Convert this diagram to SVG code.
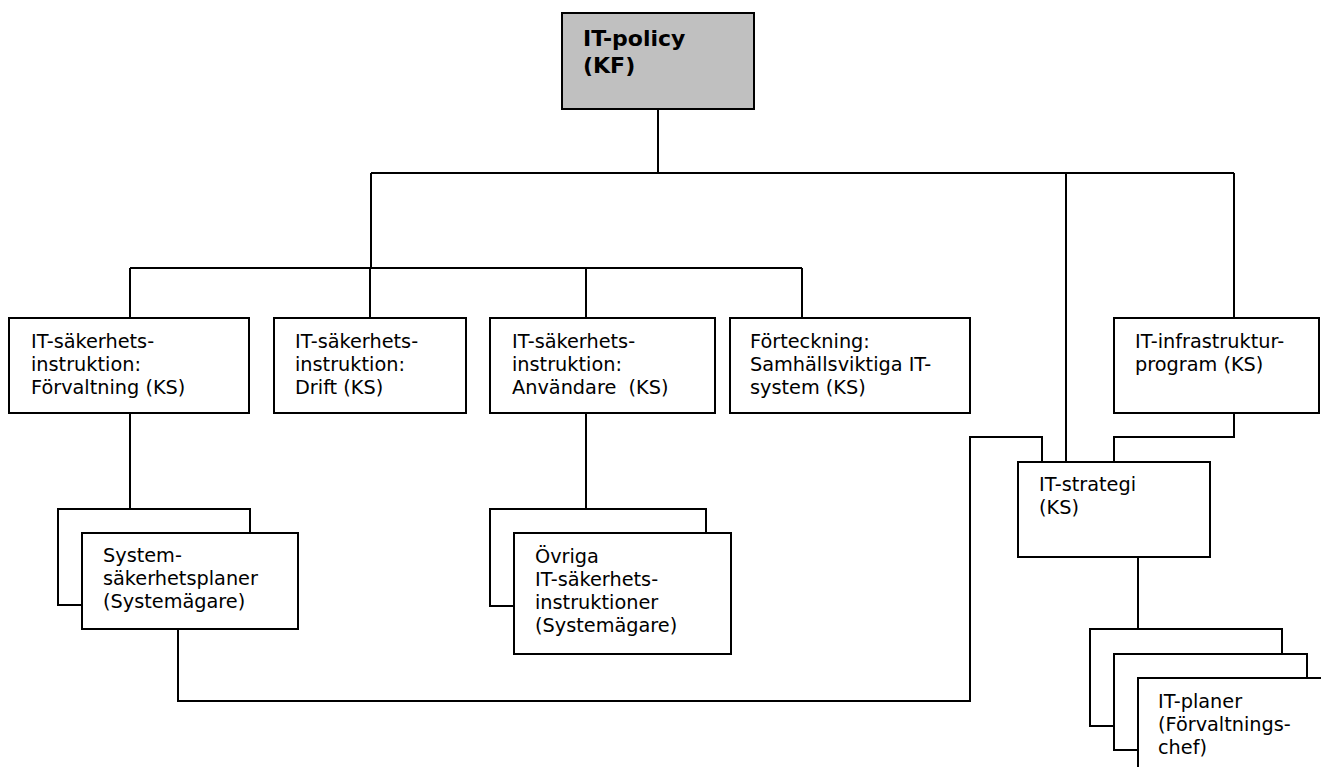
<svg xmlns="http://www.w3.org/2000/svg" width="1321" height="767" viewBox="0 0 1321 767">
<style>
.box{fill:#fff;stroke:#000;stroke-width:2}
.root{fill:#c0c0c0;stroke:#000;stroke-width:2}
.t{font-family:"DejaVu Sans",Verdana,sans-serif;font-size:19.3px;fill:#000;white-space:pre}
.tb{font-family:"DejaVu Sans",Verdana,sans-serif;font-size:22px;font-weight:bold;fill:#000}
.c{fill:none;stroke:#000;stroke-width:2}
</style>
<rect width="1321" height="767" fill="#fff"/>
<g id="connectors">
<path class="c" d="M658 109V173M371 173H1234M371 173V268M130 268H802M130 268V318M370 268V318M586 268V318M802 268V318M1066 173V462M1234 173V318"/>
<path class="c" d="M130 413V509M586 413V509M1234 413V437H1114V462M1138 557V629M178 629V701H970V437H1042V462"/>
</g>
<g id="n-policy"><rect class="root" x="562" y="13" width="192" height="96"/><text class="tb" x="583" y="46">IT-policy</text><text class="tb" x="583" y="73">(KF)</text></g>
<g id="n-forvaltning"><rect class="box" x="9" y="318" width="240" height="95"/><text class="t" x="31" y="348">IT-säkerhets-</text><text class="t" x="31" y="371">instruktion:</text><text class="t" x="31" y="394">Förvaltning (KS)</text></g>
<g id="n-drift"><rect class="box" x="274" y="318" width="192" height="95"/><text class="t" x="295" y="348">IT-säkerhets-</text><text class="t" x="295" y="371">instruktion:</text><text class="t" x="295" y="394">Drift (KS)</text></g>
<g id="n-anvandare"><rect class="box" x="490" y="318" width="225" height="95"/><text class="t" x="512" y="348">IT-säkerhets-</text><text class="t" x="512" y="371">instruktion:</text><text class="t" x="512" y="394" xml:space="preserve">Användare  (KS)</text></g>
<g id="n-forteckning"><rect class="box" x="730" y="318" width="240" height="95"/><text class="t" x="750" y="348">Förteckning:</text><text class="t" x="750" y="371">Samhällsviktiga IT-</text><text class="t" x="750" y="394">system (KS)</text></g>
<g id="n-infra"><rect class="box" x="1114" y="318" width="205" height="95"/><text class="t" x="1135" y="348">IT-infrastruktur-</text><text class="t" x="1135" y="371">program (KS)</text></g>
<g id="n-strategi"><rect class="box" x="1018" y="462" width="192" height="95"/><text class="t" x="1039" y="491">IT-strategi</text><text class="t" x="1039" y="514">(KS)</text></g>
<g id="n-systemsakerhet"><rect class="box" x="58" y="509" width="192" height="96"/><rect class="box" x="82" y="533" width="216" height="96"/><text class="t" x="103" y="562">System-</text><text class="t" x="103" y="585">säkerhetsplaner</text><text class="t" x="103" y="608">(Systemägare)</text></g>
<g id="n-ovriga"><rect class="box" x="490" y="509" width="216" height="97"/><rect class="box" x="514" y="533" width="217" height="121"/><text class="t" x="535" y="563">Övriga</text><text class="t" x="535" y="586">IT-säkerhets-</text><text class="t" x="535" y="609">instruktioner</text><text class="t" x="535" y="632">(Systemägare)</text></g>
<g id="n-itplaner"><rect class="box" x="1090" y="629" width="192" height="97"/><rect class="box" x="1114" y="654" width="193" height="96"/><rect class="box" x="1138" y="678" width="200" height="100"/><text class="t" x="1158" y="708">IT-planer</text><text class="t" x="1158" y="731">(Förvaltnings-</text><text class="t" x="1158" y="754">chef)</text></g>
</svg>
